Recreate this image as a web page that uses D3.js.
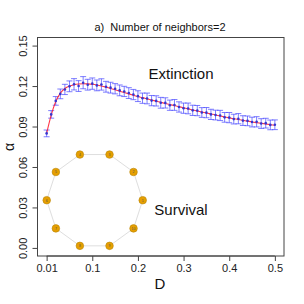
<!DOCTYPE html>
<html>
<head>
<meta charset="utf-8">
<script src="https://d3js.org/d3.v7.min.js"></script>
<style>
  body { margin: 0; background: #fff; }
  svg { display: block; font-family: "Liberation Sans", Arial, sans-serif; }
</style>
</head>
<body>
<svg id="drawing_region"></svg>
<script>
// D values (position on axis); first point sits at the "0.01" tick
const dValues = d3.range(0, 51).map(i => +(i * 0.01).toFixed(2));

const alphaMean = [
  0.0849, 0.0990, 0.1090, 0.1142, 0.1175, 0.1198, 0.1213, 0.1200, 0.1225, 0.1210,
  0.1218, 0.1205, 0.1212, 0.1195, 0.1188, 0.1180, 0.1168, 0.1160, 0.1148, 0.1137,
  0.1125, 0.1110, 0.1108, 0.1092, 0.1090, 0.1076, 0.1075, 0.1058, 0.1060, 0.1045,
  0.1036, 0.1034, 0.1020, 0.1018, 0.1004, 0.1003, 0.0990, 0.0985, 0.0982, 0.0968,
  0.0966, 0.0955, 0.0958, 0.0944, 0.0942, 0.0933, 0.0935, 0.0922, 0.0925, 0.0912,
  0.0913
];

const alphaErr = [
  0.0025, 0.0028, 0.0032, 0.0036, 0.0038, 0.0040, 0.0042, 0.0040, 0.0045, 0.0040,
  0.0042, 0.0040, 0.0042, 0.0040, 0.0040, 0.0038, 0.0040, 0.0038, 0.0040, 0.0038,
  0.0040, 0.0038, 0.0040, 0.0038, 0.0038, 0.0040, 0.0038, 0.0038, 0.0040, 0.0038,
  0.0038, 0.0040, 0.0038, 0.0038, 0.0036, 0.0038, 0.0038, 0.0036, 0.0038, 0.0036,
  0.0038, 0.0036, 0.0038, 0.0036, 0.0036, 0.0036, 0.0038, 0.0036, 0.0036, 0.0036,
  0.0036
];

const alphaFit = [
  0.0850, 0.0985, 0.1085, 0.1148, 0.1182, 0.1200, 0.1210, 0.1215, 0.1217, 0.1216,
  0.1213, 0.1208, 0.1201, 0.1192, 0.1182, 0.1172, 0.1162, 0.1152, 0.1142, 0.1132,
  0.1122, 0.1114, 0.1105, 0.1096, 0.1088, 0.1079, 0.1071, 0.1063, 0.1055, 0.1047,
  0.1039, 0.1031, 0.1023, 0.1015, 0.1008, 0.1000, 0.0993, 0.0986, 0.0978, 0.0971,
  0.0964, 0.0958, 0.0952, 0.0946, 0.0940, 0.0934, 0.0929, 0.0924, 0.0919, 0.0914,
  0.0909
];

const xTicks = [0, 0.1, 0.2, 0.3, 0.4, 0.5];
const xTickLabels = ["0.01", "0.1", "0.2", "0.3", "0.4", "0.5"];
const yTicks = [0.00, 0.03, 0.06, 0.09, 0.12, 0.15];
const yTickLabels = ["0.00", "0.03", "0.06", "0.09", "0.12", "0.15"];

const nodeLabels = ["1", "2", "3", "4", "5", "6", "7", "8", "9", "10"];

const W = 304, H = 304;
const box = {left: 37.5, right: 284, top: 37.5, bottom: 256};

const svg = d3.select('#drawing_region')
    .attr('width', W)
    .attr('height', H);

const xscale = d3.scaleLinear()
    .domain([-0.02, 0.52])
    .range([box.left, box.right]);

const yscale = d3.scaleLinear()
    .domain([-0.006, 0.156])
    .range([box.bottom, box.top]);

const axisColor = '#444';

// box
svg.append('rect')
    .attr('x', box.left).attr('y', box.top)
    .attr('width', box.right - box.left)
    .attr('height', box.bottom - box.top)
    .attr('fill', 'none')
    .attr('stroke', axisColor)
    .attr('stroke-width', 1);

// network inset (ring of 10 nodes)
const ring = {cx: 94.7, cy: 200.2, r: 48};
const nodes = nodeLabels.map((lab, i) => {
    const a = i * 2 * Math.PI / nodeLabels.length;
    return {label: lab, x: ring.cx + ring.r * Math.cos(a), y: ring.cy - ring.r * Math.sin(a)};
});
const links = nodes.map((n, i) => ({s: n, t: nodes[(i + 1) % nodes.length]}));

svg.append('g').selectAll('line')
    .data(links)
    .enter()
    .append('line')
    .attr('x1', d => d.s.x).attr('y1', d => d.s.y)
    .attr('x2', d => d.t.x).attr('y2', d => d.t.y)
    .attr('stroke', '#dedede')
    .attr('stroke-width', 1);

const ng = svg.append('g').selectAll('g')
    .data(nodes)
    .enter()
    .append('g')
    .attr('transform', d => `translate(${d.x},${d.y})`);
ng.append('circle')
    .attr('r', 3.8)
    .attr('fill', '#E69F00')
    .attr('stroke', '#b8860b')
    .attr('stroke-width', 0.6);
ng.append('text')
    .attr('text-anchor', 'middle')
    .attr('dy', '1.4')
    .style('font-size', '3.5px')
    .attr('fill', '#555')
    .text(d => d.label);

// error bars
const pts = dValues.map((d, i) => ({x: d, y: alphaMean[i], e: alphaErr[i], f: alphaFit[i]}));
const barColor = 'rgba(70,70,255,0.7)';
const eb = svg.append('g');
eb.selectAll('line.v')
    .data(pts).enter().append('line')
    .attr('x1', d => xscale(d.x)).attr('x2', d => xscale(d.x))
    .attr('y1', d => yscale(d.y - d.e)).attr('y2', d => yscale(d.y + d.e))
    .attr('stroke', barColor).attr('stroke-width', 1);
eb.selectAll('line.top')
    .data(pts).enter().append('line')
    .attr('x1', d => xscale(d.x) - 3).attr('x2', d => xscale(d.x) + 3)
    .attr('y1', d => yscale(d.y + d.e)).attr('y2', d => yscale(d.y + d.e))
    .attr('stroke', barColor).attr('stroke-width', 1);
eb.selectAll('line.bot')
    .data(pts).enter().append('line')
    .attr('x1', d => xscale(d.x) - 3).attr('x2', d => xscale(d.x) + 3)
    .attr('y1', d => yscale(d.y - d.e)).attr('y2', d => yscale(d.y - d.e))
    .attr('stroke', barColor).attr('stroke-width', 1);

// fitted red curve
svg.append('path')
    .datum(pts)
    .attr('fill', 'none')
    .attr('stroke', 'rgba(255,20,40,0.85)')
    .attr('stroke-width', 1.1)
    .attr('d', d3.line().x(d => xscale(d.x)).y(d => yscale(d.f)).curve(d3.curveMonotoneX));

// points
svg.append('g').selectAll('circle')
    .data(pts).enter().append('circle')
    .attr('cx', d => xscale(d.x))
    .attr('cy', d => yscale(d.y))
    .attr('r', 1.3)
    .attr('fill', '#3535d0');

// axes
const xaxis = d3.axisBottom(xscale)
    .tickValues(xTicks)
    .tickFormat((d, i) => xTickLabels[i])
    .tickSize(5).tickSizeOuter(0).tickPadding(3);
const xg = svg.append('g')
    .attr('transform', `translate(0,${box.bottom})`)
    .call(xaxis);

const yaxis = d3.axisLeft(yscale)
    .tickValues(yTicks)
    .tickFormat((d, i) => yTickLabels[i])
    .tickSize(5).tickSizeOuter(0);
const yg = svg.append('g')
    .attr('transform', `translate(${box.left},0)`)
    .call(yaxis);

[xg, yg].forEach(g => {
    g.select('.domain').attr('stroke', axisColor);
    g.selectAll('.tick line').attr('stroke', axisColor);
    g.selectAll('text').attr('fill', '#222').style('font-size', '11px')
        .style('font-family', '"Liberation Sans", Arial, sans-serif');
});
// R style: axis line spans only first to last tick
xg.select('.domain').attr('d', `M${xscale(0)},0H${xscale(0.5)}`);
yg.select('.domain').attr('d', `M0,${yscale(0)}V${yscale(0.15)}`);

yg.selectAll('.tick text')
    .attr('x', null).attr('dy', null)
    .attr('text-anchor', 'middle')
    .attr('transform', 'translate(-10.5,0) rotate(-90)');

// texts
svg.append('text')
    .attr('x', 160).attr('y', 31)
    .attr('text-anchor', 'middle')
    .style('font-size', '11px')
    .style('white-space', 'pre')
    .attr('fill', '#111')
    .text('a)  Number of neighbors=2');

svg.append('text')
    .attr('x', 181).attr('y', 79)
    .attr('text-anchor', 'middle')
    .style('font-size', '15px')
    .attr('fill', '#111')
    .text('Extinction');

svg.append('text')
    .attr('x', 181).attr('y', 214.5)
    .attr('text-anchor', 'middle')
    .style('font-size', '15px')
    .attr('fill', '#111')
    .text('Survival');

svg.append('text')
    .attr('x', 160).attr('y', 288.5)
    .attr('text-anchor', 'middle')
    .style('font-size', '15px')
    .attr('fill', '#111')
    .text('D');

svg.append('text')
    .attr('transform', 'translate(13.5,147) rotate(-90)')
    .attr('text-anchor', 'middle')
    .style('font-size', '14px')
    .attr('fill', '#111')
    .text('α');
</script>
</body>
</html>
